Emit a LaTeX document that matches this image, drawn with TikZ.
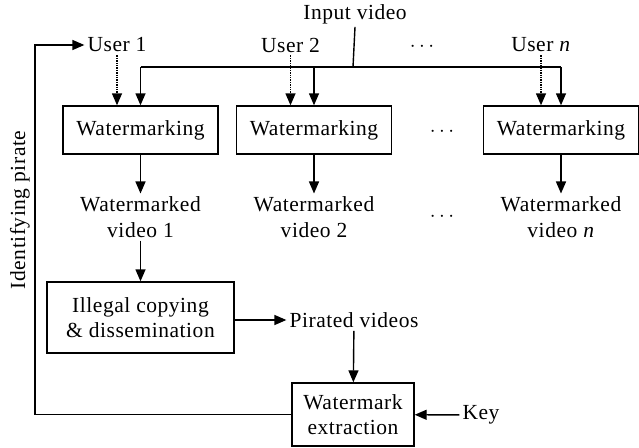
\documentclass[tikz,border=0pt]{standalone}
\usepackage{fontspec}
\setmainfont{Liberation Serif}[LetterSpace=2.5]
\usetikzlibrary{arrows.meta}

\begin{document}
\begin{tikzpicture}[x=1pt,y=-1pt,
	every node/.style={font=\fontsize{21.5}{25.5}\selectfont, inner sep=3pt},
	block/.style={draw, line width=1.4pt, minimum width=155pt, minimum height=48pt, inner sep=0pt, align=center},
	label/.style={align=center},
	arr/.style={line width=1.4pt, -{Triangle[length=12pt,width=10pt]}},
	userarr/.style={arr, densely dotted},
	line/.style={line width=1.4pt}]
	\useasboundingbox (0,0) rectangle (639,447);

	% inputs and users
	\node (input) at (355,14) {Input video};
	\node (user1) at (117,45) {User 1};
	\node (user2) at (290.5,45) {User 2};
	\node (usern) at (541,45) {User \textit{n}};
	\node (dotsA) at (422,47) {$\cdots$};

	% watermarking blocks
	\node[block] (wm1) at (140.5,130) {Watermarking};
	\node[block] (wm2) at (314,130) {Watermarking};
	\node[block] (wmn) at (561,130) {Watermarking};
	\node (dotsB) at (442,132) {$\cdots$};

	\node[label] (wv1) at (140.5,217) {Watermarked\\video 1};
	\node[label] (wv2) at (314,217) {Watermarked\\video 2};
	\node[label] (wvn) at (561,217) {Watermarked\\video \textit{n}};
	\node (dotsC) at (442,217) {$\cdots$};

	% piracy and extraction
	\node[block, minimum width=187pt, minimum height=71pt] (illegal) at (140.5,317.5) {Illegal copying\\\& dissemination};
	\node (pirated) at (354,320) {Pirated videos};
	\node[block, minimum width=122pt, minimum height=63pt] (extract) at (353,414.5) {Watermark\\extraction};
	\node (key) at (481,415) {Key};
	\node[rotate=90] (ident) at (20,210) {Identifying pirate};
	\coordinate (bus) at (353,67);
	\coordinate (loop) at (35,45);

	% input video distribution
	\draw[line] (input.south) -- (bus);
	\draw[line] (wm1.north |- bus) -- (wmn.north |- bus);
	\draw[arr] (wm1.north |- bus) -- (wm1.north);
	\draw[arr] (wm2.north |- bus) -- (wm2.north);
	\draw[arr] (wmn.north |- bus) -- (wmn.north);
	\draw[userarr] (user1.south) -- (user1.south |- wm1.north);
	\draw[userarr] (user2.south) -- (user2.south |- wm2.north);
	\draw[userarr] (usern.south) -- (usern.south |- wmn.north);

	\draw[arr] (wm1) -- (wv1);
	\draw[arr] (wm2) -- (wv2);
	\draw[arr] (wmn) -- (wvn);

	\draw[arr] (wv1) -- (illegal);
	\draw[arr] (illegal.east |- pirated) -- (pirated);
	\draw[arr] (pirated) -- (extract);
	\draw[arr] (key) -- (extract);
	\draw[arr] (extract.west) -| (loop) -- (user1.west);
\end{tikzpicture}
\end{document}
